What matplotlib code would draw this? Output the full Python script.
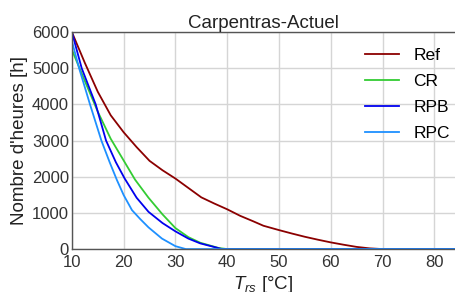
import numpy as np
import matplotlib
matplotlib.use('Agg')
import matplotlib.pyplot as plt

plt.rcParams['font.family'] = ['Liberation Sans', 'DejaVu Sans']
plt.rcParams['mathtext.fontset'] = 'custom'
plt.rcParams['mathtext.rm'] = 'Liberation Sans'
plt.rcParams['mathtext.it'] = 'Liberation Sans:italic'

# values (T_rs in degC, hours)
t_ref = [10, 12.5, 15, 17.5, 20, 22.5, 25, 27.5, 30, 32.5, 35, 37.5, 40, 42.5, 45, 47,
         50, 52.5, 55, 57.5, 60, 62.5, 65, 67.5, 70, 84]
h_ref = [6000, 5150, 4350, 3700, 3230, 2820, 2440, 2180, 1950, 1690, 1430, 1260, 1100,
         920, 770, 645, 525, 430, 340, 260, 185, 120, 60, 20, 0, 0]

t_cr = [10, 12.5, 15, 17.5, 20, 22.2, 24.8, 27.5, 30, 32.5, 34.8, 38.4, 40, 84]
h_cr = [5510, 4650, 3800, 3050, 2450, 1920, 1420, 960, 580, 330, 175, 28, 0, 0]

t_rpb = [10, 11.9, 14.6, 16.6, 18.5, 20.2, 22.5, 24.8, 27.5, 30, 32.5, 34.8, 37.8, 39, 84]
h_rpb = [6000, 5000, 4000, 3000, 2400, 1950, 1420, 1030, 720, 490, 290, 157, 46, 0, 0]

t_rpc = [10, 11.4, 13.5, 15.7, 17.3, 18.7, 20, 21.6, 23.2, 24.8, 27.4, 30, 32, 84]
h_rpc = [5750, 5000, 4000, 3000, 2400, 1908, 1493, 1078, 830, 600, 290, 80, 0, 0]

title = 'Carpentras-Actuel'


def plot(out_file):
    fig = plt.figure(figsize=(4.55, 2.92), dpi=100)
    ax = fig.add_axes([0.158, 0.147, 0.842, 0.743])

    ax.plot(t_ref, h_ref, color='#8b0000', lw=1.3, label='Ref')
    ax.plot(t_cr, h_cr, color='#33cc33', lw=1.3, label='CR')
    ax.plot(t_rpb, h_rpb, color='#0000ee', lw=1.3, label='RPB')
    ax.plot(t_rpc, h_rpc, color='#1e90ff', lw=1.3, label='RPC')

    ax.set_xlim(10, 84)
    ax.set_ylim(0, 6000)
    ax.set_xticks(np.arange(10, 81, 10))
    ax.set_yticks(np.arange(0, 6001, 1000))
    ax.grid(True, color='#d5d5d5', lw=1.0)
    ax.set_axisbelow(True)

    for s in ['left', 'top', 'bottom']:
        ax.spines[s].set_color('#555555')
        ax.spines[s].set_linewidth(1.0)
    ax.spines['right'].set_visible(False)
    ax.tick_params(length=0, labelsize=12, colors='#333333')
    ax.tick_params(axis='x', pad=4.5)
    ax.tick_params(axis='y', pad=2)

    ax.set_title(title, fontsize=13.5, color='#222222', pad=3)
    ax.set_ylabel("Nombre d'heures [h]", fontsize=13.5, color='#222222', labelpad=3)
    ax.set_xlabel(r'$T_{rs}$ [°C]', fontsize=13.5, color='#222222', labelpad=2.5)

    ax.legend(loc='upper right', frameon=False, fontsize=12.5, handlelength=2.0,
              labelspacing=0.62, borderaxespad=0.5, bbox_to_anchor=(1.027, 1.0))

    fig.savefig(out_file, dpi=100)


plot('out.png')
